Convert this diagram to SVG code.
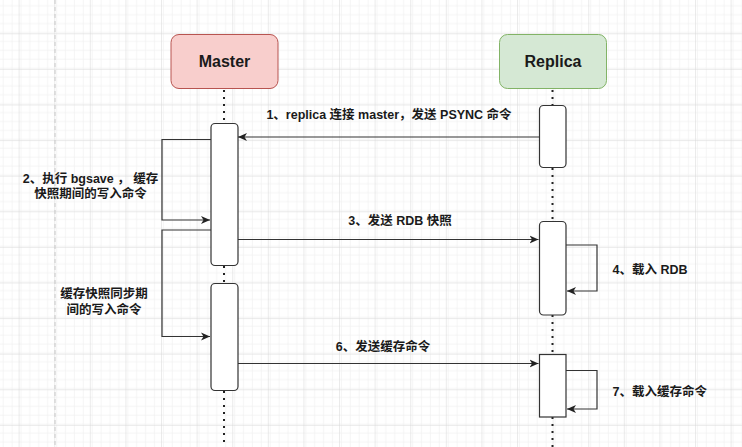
<svg xmlns="http://www.w3.org/2000/svg" width="742" height="447" viewBox="0 0 742 447">
<defs>
<pattern id="minor" width="8.9" height="8.9" patternUnits="userSpaceOnUse" x="19.6" y="-1.3">
<path d="M8.9 0V8.9H0" fill="none" stroke="#ececec" stroke-width="1"/>
</pattern>
<pattern id="major" width="35.6" height="35.6" patternUnits="userSpaceOnUse" x="19.6" y="-1.3">
<rect width="35.6" height="35.6" fill="url(#minor)"/>
<path d="M35.6 0V35.6H0" fill="none" stroke="#d8d8d8" stroke-width="1"/>
</pattern>
<marker id="arr" markerWidth="10" markerHeight="10" refX="9" refY="5" orient="auto" markerUnits="userSpaceOnUse">
<path d="M0 1 L9 5 L0 9 L2.5 5 Z" fill="#222"/>
</marker>
</defs>
<style>
.lbl{font-family:"Liberation Sans","Noto Sans CJK SC",sans-serif;font-size:12.5px;font-weight:bold;fill:#1a1a1a}
.head{font-family:"Liberation Sans","Noto Sans CJK SC",sans-serif;font-size:16px;font-weight:bold;fill:#1a1a1a}
.life{stroke:#222;stroke-width:2;stroke-dasharray:2 5;fill:none}
.act{fill:#fff;stroke:#333;stroke-width:1.2}
.msg{fill:none;stroke:#333;stroke-width:1.2;marker-end:url(#arr)}
</style>
<rect width="742" height="447" fill="#fff"/>
<rect width="742" height="447" fill="url(#major)"/>
<path d="M55 0V447" stroke="#c8c8c8" stroke-width="1" stroke-dasharray="4 3"/>

<g id="lifelines">
<path class="life" d="M224 90V123M224 266V283M224 391V447"/>
<path class="life" d="M552.5 90V105M552.5 168V221M552.5 315V354M552.5 417V447"/>
</g>

<g id="master">
<rect x="171" y="34.5" width="107" height="54" rx="8" fill="#f8cecc" stroke="#b85450" stroke-width="1"/>
<text class="head" x="224.5" y="66.5" text-anchor="middle">Master</text>
</g>
<g id="replica">
<rect x="499.5" y="34.5" width="107" height="54" rx="8" fill="#d5e8d4" stroke="#82b366" stroke-width="1"/>
<text class="head" x="553" y="66.5" text-anchor="middle">Replica</text>
</g>

<g id="master-act1"><rect class="act" x="211" y="123.5" width="27" height="142" rx="4"/></g>
<g id="master-act2"><rect class="act" x="211" y="283.5" width="27" height="107" rx="4"/></g>
<g id="replica-act1"><rect class="act" x="539.5" y="105.5" width="26.5" height="62" rx="4"/></g>
<g id="replica-act2"><rect class="act" x="539.5" y="221.5" width="26.5" height="93.5" rx="4"/></g>
<g id="replica-act3"><rect class="act" x="539.5" y="354.5" width="26.5" height="62.5"/></g>

<g id="connectors">
<path class="msg" d="M539.5 137H238"/>
<path class="msg" d="M211 139.5H162V220H210"/>
<path class="msg" d="M238 239.5H538.5"/>
<path class="msg" d="M211 230H162V336.5H210"/>
<path class="msg" d="M566 245H597V291H567"/>
<path class="msg" d="M238 363.5H538.5"/>
<path class="msg" d="M566 370.5H597V409H567"/>
</g>

<g id="labels">
<text class="lbl" x="389" y="119" text-anchor="middle">1、replica 连接 master，发送 PSYNC 命令</text>
<text class="lbl" x="90.5" y="183" text-anchor="middle">2、执行 bgsave ， 缓存</text>
<text class="lbl" x="90.5" y="198" text-anchor="middle">快照期间的写入命令</text>
<text class="lbl" x="400" y="225" text-anchor="middle">3、发送 RDB 快照</text>
<text class="lbl" x="612.5" y="274">4、载入 RDB</text>
<text class="lbl" x="104" y="298" text-anchor="middle">缓存快照同步期</text>
<text class="lbl" x="104" y="314" text-anchor="middle">间的写入命令</text>
<text class="lbl" x="383" y="350.5" text-anchor="middle">6、发送缓存命令</text>
<text class="lbl" x="612.5" y="395.5">7、载入缓存命令</text>
</g>
</svg>
